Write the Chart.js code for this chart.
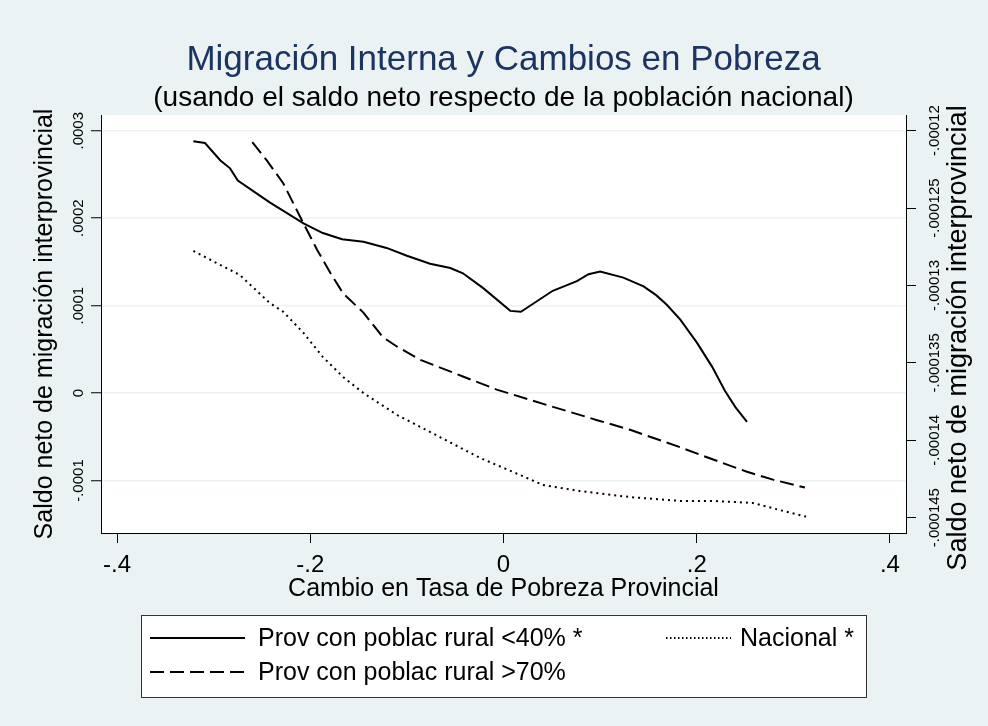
<!DOCTYPE html>
<html>
<head>
<meta charset="utf-8">
<title>Migración Interna y Cambios en Pobreza</title>
<script src="https://cdn.jsdelivr.net/npm/chart.js@4.4.1/dist/chart.umd.min.js"></script>
<style>
  html, body { margin: 0; padding: 0; background: #eaf2f3; }
  #wrap { width: 988px; height: 726px; }
</style>
</head>
<body>
<div id="wrap"><canvas id="migChart" width="988" height="726"></canvas></div>
<script>
// Cambio en tasa de pobreza (x) vs saldo neto de migración (y)
const rural40X = [-0.321, -0.309, -0.293, -0.283, -0.275, -0.242, -0.207, -0.187, -0.167, -0.145,
  -0.121, -0.100, -0.076, -0.055, -0.042, -0.021, 0.007, 0.018, 0.051, 0.076,
  0.088, 0.100, 0.124, 0.145, 0.158, 0.169, 0.183, 0.200, 0.216, 0.229, 0.240, 0.252];
const rural40Y = [0.000288, 0.000286, 0.000266, 0.000257, 0.000243, 0.000218, 0.000194, 0.000183, 0.000176, 0.000173,
  0.000166, 0.000157, 0.000148, 0.000143, 0.000137, 0.000120, 0.000094, 0.000093, 0.000117, 0.000128,
  0.000136, 0.000139, 0.000132, 0.000122, 0.000112, 0.000101, 0.000084, 0.000058, 0.000030, 0.000003, -0.000016, -0.000033];

const rural70X = [-0.260, -0.245, -0.228, -0.207, -0.193, -0.179, -0.166, -0.145, -0.125, -0.110,
  -0.086, -0.042, -0.007, 0.028, 0.097, 0.131, 0.183, 0.217, 0.252, 0.279, 0.312];
const rural70Y = [0.000287, 0.000266, 0.000240, 0.000194, 0.000164, 0.000137, 0.000114, 0.000092, 0.000064, 0.000053,
  0.000038, 0.000019, 0.000004, -0.000008, -0.000031, -0.000042, -0.000062, -0.000076, -0.000090, -0.000099, -0.000108];

// serie nacional, va contra el eje derecho
const nacionalX = [-0.321, -0.297, -0.273, -0.242, -0.228, -0.207, -0.187, -0.166, -0.145, -0.110,
  -0.066, -0.024, 0.010, 0.041, 0.079, 0.131, 0.183, 0.217, 0.258, 0.286, 0.315];
const nacionalY = [-0.00012777, -0.00012855, -0.00012932, -0.00013113, -0.0001317, -0.00013307, -0.00013462, -0.00013591, -0.00013695, -0.00013837,
  -0.00013979, -0.00014115, -0.00014205, -0.00014289, -0.00014328, -0.00014367, -0.00014392, -0.00014392, -0.00014405, -0.00014451, -0.00014496];

const xTicks = [-0.4, -0.2, 0, 0.2, 0.4];
const xTickLabels = ['-.4', '-.2', '0', '.2', '.4'];
const leftTicks = [-0.0001, 0, 0.0001, 0.0002, 0.0003];
const leftTickLabels = ['-.0001', '0', '.0001', '.0002', '.0003'];
const rightTicks = [-0.000145, -0.00014, -0.000135, -0.00013, -0.000125, -0.00012];
const rightTickLabels = ['-.000145', '-.00014', '-.000135', '-.00013', '-.000125', '-.00012'];

const seriesNames = ['Prov con poblac rural <40% *', 'Prov con poblac rural >70%', 'Nacional *'];

const FONT = '"Liberation Sans", Arial, Helvetica, sans-serif';
const BG = '#eaf2f3';
const TITLE_COLOR = '#1c3462';

function toPoints(xs, ys) {
  return xs.map((x, i) => ({ x: x, y: ys[i] }));
}

function fixedTicks(values) {
  return function (scale) {
    scale.ticks = values.map(v => ({ value: v }));
  };
}

// fondo gris azulado y area del grafico en blanco
const backgroundPlugin = {
  id: 'stataBackground',
  beforeDraw(chart) {
    const { ctx, chartArea } = chart;
    ctx.save();
    ctx.fillStyle = BG;
    ctx.fillRect(0, 0, chart.width, chart.height);
    ctx.fillStyle = '#ffffff';
    ctx.fillRect(chartArea.left, chartArea.top, chartArea.right - chartArea.left, chartArea.bottom - chartArea.top);
    ctx.restore();
  }
};

function rotatedText(ctx, text, x, y) {
  ctx.save();
  ctx.translate(x, y);
  ctx.rotate(-Math.PI / 2);
  ctx.fillText(text, 0, 0);
  ctx.restore();
}

// titulos, etiquetas rotadas de los ejes y la leyenda
const textPlugin = {
  id: 'stataText',
  afterDraw(chart) {
    const { ctx, chartArea, scales } = chart;
    const cx = (chartArea.left + chartArea.right) / 2;
    const cy = (chartArea.top + chartArea.bottom) / 2;
    ctx.save();
    ctx.textAlign = 'center';
    ctx.textBaseline = 'alphabetic';
    ctx.fillStyle = TITLE_COLOR;
    ctx.font = '35px ' + FONT;
    ctx.fillText('Migración Interna y Cambios en Pobreza', cx, 70);
    ctx.fillStyle = '#000';
    ctx.font = '28px ' + FONT;
    ctx.fillText('(usando el saldo neto respecto de la población nacional)', cx, 106);

    // eje izquierdo
    ctx.textBaseline = 'middle';
    ctx.font = '15px ' + FONT;
    leftTicks.forEach((v, i) => {
      rotatedText(ctx, leftTickLabels[i], 79, scales.y.getPixelForValue(v));
    });
    ctx.font = '25px ' + FONT;
    rotatedText(ctx, 'Saldo neto de migración interprovincial', 45, cy);

    // eje derecho
    ctx.font = '15px ' + FONT;
    rightTicks.forEach((v, i) => {
      rotatedText(ctx, rightTickLabels[i], 935, scales.y2.getPixelForValue(v));
    });
    ctx.font = '27px ' + FONT;
    rotatedText(ctx, 'Saldo neto de migración interprovincial', 959, cy + 14);

    // leyenda
    const box = { x: 141.5, y: 615.5, w: 725, h: 82 };
    ctx.fillStyle = '#ffffff';
    ctx.fillRect(box.x, box.y, box.w, box.h);
    ctx.strokeStyle = '#333';
    ctx.lineWidth = 1;
    ctx.strokeRect(box.x, box.y, box.w, box.h);

    const ds = chart.data.datasets;
    const keys = [
      { d: ds[0], x0: 150, x1: 245, tx: 258, y: 638 },
      { d: ds[1], x0: 150, x1: 245, tx: 258, y: 672 },
      { d: ds[2], x0: 666, x1: 731, tx: 740, y: 638 }
    ];
    ctx.font = '25px ' + FONT;
    ctx.textAlign = 'left';
    keys.forEach(k => {
      ctx.save();
      ctx.strokeStyle = k.d.borderColor;
      ctx.lineWidth = k.d.borderWidth;
      ctx.setLineDash(k.d.label === 'Nacional *' ? [1.5, 2.5] : (k.d.borderDash || []));
      ctx.beginPath();
      ctx.moveTo(k.x0, k.y);
      ctx.lineTo(k.x1, k.y);
      ctx.stroke();
      ctx.restore();
      ctx.fillStyle = '#000';
      ctx.fillText(k.d.label, k.tx, k.y + 1);
    });
    ctx.restore();
  }
};

const ctx = document.getElementById('migChart').getContext('2d');
const migChart = new Chart(ctx, {
  type: 'scatter',
  data: {
    datasets: [
      {
        label: seriesNames[0],
        data: toPoints(rural40X, rural40Y),
        yAxisID: 'y',
        showLine: true,
        borderColor: '#000',
        borderWidth: 2,
        pointRadius: 0,
        tension: 0
      },
      {
        label: seriesNames[1],
        data: toPoints(rural70X, rural70Y),
        yAxisID: 'y',
        showLine: true,
        borderColor: '#000',
        borderWidth: 2,
        borderDash: [14, 6],
        pointRadius: 0,
        tension: 0
      },
      {
        label: seriesNames[2],
        data: toPoints(nacionalX, nacionalY),
        yAxisID: 'y2',
        showLine: true,
        borderColor: '#000',
        borderWidth: 2,
        borderDash: [2, 4],
        pointRadius: 0,
        tension: 0
      }
    ]
  },
  options: {
    responsive: false,
    animation: false,
    events: [],
    layout: { padding: { top: 115, left: 0, right: 0, bottom: 122 } },
    plugins: {
      legend: { display: false },
      title: { display: false },
      tooltip: { enabled: false }
    },
    scales: {
      x: {
        type: 'linear',
        min: -0.4166,
        max: 0.4166,
        afterBuildTicks: fixedTicks(xTicks),
        afterFit: scale => { scale.height = 71; },
        grid: { drawOnChartArea: false, tickColor: '#000', tickLength: 10, tickWidth: 1 },
        border: { color: '#000', width: 1 },
        ticks: {
          autoSkip: false,
          maxRotation: 0,
          padding: 8,
          color: '#000',
          font: { family: FONT, size: 24 },
          callback: (v, i) => xTickLabels[i]
        },
        title: {
          display: true,
          text: 'Cambio en Tasa de Pobreza Provincial',
          color: '#000',
          padding: 0,
          font: { family: FONT, size: 25 }
        }
      },
      y: {
        type: 'linear',
        position: 'left',
        min: -0.00016,
        max: 0.000318,
        afterBuildTicks: fixedTicks(leftTicks),
        afterFit: scale => { scale.width = 101; },
        grid: { color: BG, lineWidth: 1.5, tickColor: '#000', tickLength: 10, tickWidth: 1 },
        border: { color: '#000', width: 1 },
        ticks: { display: false }
      },
      y2: {
        type: 'linear',
        position: 'right',
        min: -0.00014599,
        max: -0.00011899,
        afterBuildTicks: fixedTicks(rightTicks),
        afterFit: scale => { scale.width = 82; },
        grid: { drawOnChartArea: false, tickColor: '#000', tickLength: 10, tickWidth: 1 },
        border: { color: '#000', width: 1 },
        ticks: { display: false }
      }
    }
  },
  plugins: [backgroundPlugin, textPlugin]
});
</script>
</body>
</html>
